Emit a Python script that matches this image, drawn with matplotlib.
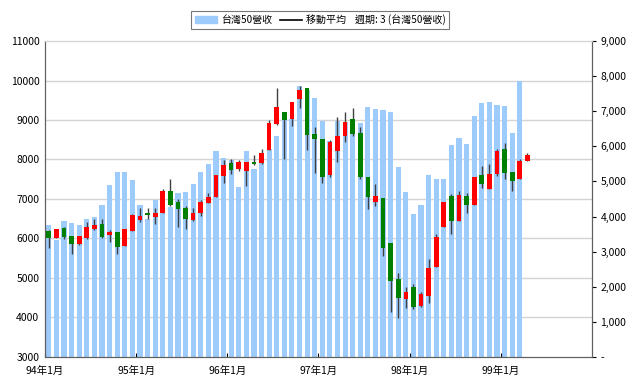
import matplotlib.pyplot as plt
from matplotlib.lines import Line2D
from matplotlib.patches import Patch
from matplotlib.ticker import FuncFormatter
import numpy as np

plt.rcParams['font.family'] = ['Noto Sans CJK TC', 'DejaVu Sans']

# monthly candles, 94/1 .. 99/4 (left axis)
opens = [6200, 6010, 6270, 6055, 5860, 6020, 6240, 6360, 6090, 6170, 5820, 6200,
         6470, 6640, 6540, 6640, 7200, 6915, 6765, 6470, 6640, 6905, 7045, 7590,
         7905, 7760, 7715, 7930, 7920, 8240, 8900, 9210, 9025, 9525, 9810, 8645,
         8520, 7620, 8215, 8605, 9025, 8670, 7555, 6930, 7020, 5895, 4970, 4460,
         4765, 4300, 4545, 5285, 6300, 7075, 6445, 7075, 6850, 7610, 7245, 7625,
         8260, 7690, 7500, 7970]
closes = [6010, 6240, 6045, 5850, 6055, 6285, 6340, 6045, 6165, 5785, 6250, 6590,
          6570, 6595, 6655, 7200, 6850, 6740, 6485, 6640, 6915, 7060, 7610, 7860,
          7735, 7935, 7925, 7895, 8170, 8935, 9320, 9000, 9450, 9760, 8615, 8520,
          7550, 8435, 8605, 8950, 8655, 7545, 7060, 7075, 5750, 4925, 4500, 4640,
          4275, 4595, 5260, 6045, 6930, 6445, 7100, 6850, 7550, 7370, 7625, 8225,
          7665, 7465, 7960, 8115]
highs = [6215, 6245, 6300, 6065, 6065, 6425, 6490, 6485, 6215, 6175, 6250, 6630,
         6765, 6765, 6765, 7245, 7500, 6990, 6825, 6765, 6975, 7160, 7610, 7985,
         8015, 7975, 7945, 8115, 8265, 9000, 9800, 9210, 9450, 9860, 9810, 8830,
         8520, 8495, 9070, 9195, 9315, 8830, 7555, 7385, 7020, 5895, 5125, 4765,
         4850, 4655, 5480, 6105, 6930, 7120, 7200, 7160, 7550, 7835, 7885, 8260,
         8410, 7690, 8015, 8170]
lows = [5750, 6000, 5980, 5595, 5830, 5990, 6220, 6000, 5920, 5620, 5820, 6185,
        6410, 6485, 6365, 6640, 6825, 6300, 6240, 6445, 6570, 6890, 7045, 7395,
        7625, 7700, 7330, 7870, 7880, 8240, 8875, 8005, 8855, 9295, 8240, 7665,
        7415, 7555, 7925, 8450, 8585, 7495, 6740, 6825, 5555, 4145, 3980, 4235,
        4210, 4275, 4360, 5285, 6300, 6115, 6445, 6655, 6850, 7270, 7245, 7580,
        7500, 7200, 7500, 7970]

# monthly revenue bars, 94/1 .. 99/3 (right axis)
revenue = [3750, 3330, 3865, 3815, 3750, 3920, 3990, 4330, 4900, 5260, 5260, 5040,
           4330, 3930, 4480, 4150, 4260, 4660, 4700, 4930, 5270, 5500, 5875, 5675,
           5620, 4850, 5865, 5345, 5535, 5915, 6300, 6750, 6770, 7720, 7600, 7385,
           6730, 6150, 6720, 6700, 6650, 6675, 7110, 7065, 7035, 6980, 5420, 4700,
           4065, 4330, 5175, 5060, 5060, 6040, 6230, 6065, 6865, 7245, 7255, 7170,
           7150, 6390, 7850]

year_labels = ['94年1月', '95年1月', '96年1月', '97年1月', '98年1月', '99年1月']

opens = np.array(opens)
closes = np.array(closes)
highs = np.array(highs)
lows = np.array(lows)
xc = np.arange(len(opens)) + 0.5
xb = np.arange(len(revenue)) + 0.5

fig = plt.figure(figsize=(6.4, 3.92), dpi=100)
ax = fig.add_axes([0.0703, 0.0893, 0.8547, 0.8061])
ax2 = ax.twinx()
ax.set_zorder(2)
ax2.set_zorder(1)
ax.patch.set_visible(False)

grid_c = '#d4d4d4'

# bars (right axis)
ax2.bar(xb, revenue, width=0.68, color='#9dcbfb', zorder=2)
ax2.set_ylim(0, 9000)
ax2.set_yticks(np.arange(0, 9001, 1000))
ax2.yaxis.set_major_formatter(FuncFormatter(lambda v, p: '-' if v == 0 else f'{int(v):,}'))

# candles (left axis)
up = closes >= opens
ax.vlines(xc, lows, highs, color='#404040', linewidth=1, zorder=3)
ax.bar(xc[up], (closes - opens)[up], bottom=opens[up], width=0.62,
       color='#ff0000', zorder=4)
ax.bar(xc[~up], (opens - closes)[~up], bottom=closes[~up], width=0.62,
       color='#008000', zorder=4)
ax.set_ylim(3000, 11000)
ax.set_yticks(np.arange(3000, 11001, 1000))
ax.set_xlim(0, 72)
ax.set_xticks(np.arange(0, 72, 12))
ax.set_xticklabels(year_labels)

# grid lines behind the bars, at the left-axis ticks
left_ticks = np.arange(3000, 11001, 1000)
ax2.set_yticks((left_ticks - 3000) * 9000 / 8000, minor=True)
ax2.grid(True, which='minor', axis='y', color=grid_c, linewidth=1, zorder=0)
ax2.grid(True, which='major', axis='x', color=grid_c, linewidth=1, zorder=0)
ax2.tick_params(axis='y', which='minor', length=0)
ax2.set_axisbelow(True)

for a in (ax, ax2):
    a.tick_params(labelsize=7.5, colors='black')
    for s in a.spines.values():
        s.set_color('#606060')
    a.spines['top'].set_color(grid_c)
ax.tick_params(axis='x', direction='in', length=3, pad=6)
ax.tick_params(axis='y', length=0, pad=4)
ax2.tick_params(axis='y', which='major', length=3, pad=3)

handles = [Patch(color='#9dcbfb'), Line2D([0], [0], color='black', lw=1.2)]
labels = ['台灣50營收', '移動平均    週期: 3 (台灣50營收)']
leg = fig.legend(handles, labels, loc='upper center', bbox_to_anchor=(0.5, 0.985),
                 ncol=2, fontsize=7.2, frameon=True, fancybox=False,
                 handlelength=2.2, handletextpad=0.4, columnspacing=0.8,
                 borderpad=0.35)
leg.get_frame().set_edgecolor('#555555')
leg.get_frame().set_linewidth(0.8)

fig.savefig('out.png', dpi=100)
